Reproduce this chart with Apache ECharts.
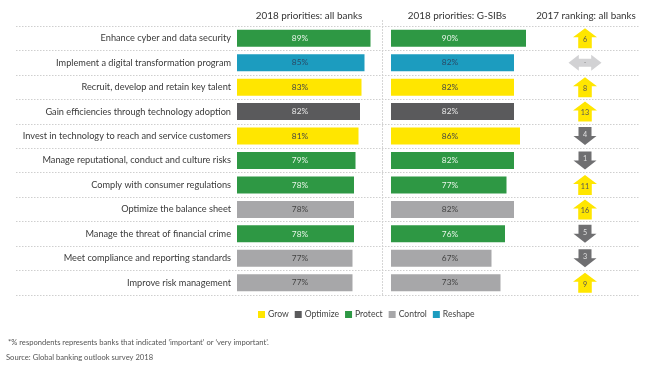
<!DOCTYPE html>
<html><head><meta charset="utf-8">
<script src="https://cdn.jsdelivr.net/npm/echarts@6/dist/echarts.min.js"></script>
<style>html,body{margin:0;padding:0;background:#fff}#c{width:650px;height:371px}</style>
</head><body><div id="c"></div>
<script>
const categories = [
  'Enhance cyber and data security',
  'Implement a digital transformation program',
  'Recruit, develop and retain key talent',
  'Gain efficiencies through technology adoption',
  'Invest in technology to reach and service customers',
  'Manage reputational, conduct and culture risks',
  'Comply with consumer regulations',
  'Optimize the balance sheet',
  'Manage the threat of financial crime',
  'Meet compliance and reporting standards',
  'Improve risk management'
];
const allBanks = [89, 85, 83, 82, 81, 79, 78, 78, 78, 77, 77];
const gsibs = [90, 82, 82, 82, 86, 82, 77, 82, 76, 67, 73];
const groups = ['Protect','Reshape','Grow','Optimize','Grow','Protect','Protect','Control','Protect','Control','Control'];
const rank2017 = ['6','-','8','13','4','1','11','16','5','3','9'];
const rankDir = ['up','both','up','up','down','down','up','up','down','down','up'];
const groupNames = ['Grow','Optimize','Protect','Control','Reshape'];
const headers = ['2018 priorities: all banks','2018 priorities: G-SIBs','2017 ranking: all banks'];
const footnote = '*% respondents represents banks that indicated \u2018important\u2019 or \u2018very important\u2019.';
const source = 'Source: Global banking outlook survey 2018';

const FONT = 'Lato';
const groupColor = {Grow:'#ffe600', Optimize:'#5a5a5c', Protect:'#2e9844', Control:'#a7a7a9', Reshape:'#1c9cbf'};
const labelColor = {Grow:'#444', Optimize:'#e8e8e8', Protect:'#e8f5e8', Control:'#444', Reshape:'#2a4a66'};
const arrowPath = {
  up: 'path://M5 9 L0 9 L11.5 0 L23 9 L18 9 L18 20 L5 20 Z',
  down: 'path://M5 0 L18 0 L18 10 L23 10 L11.5 20 L0 10 L5 10 Z',
  both: 'path://M0 8 L10 0 L10 4 L22 4 L22 0 L32 8 L22 16 L22 12 L10 12 L10 16 Z'
};
const arrowSize = {up:[24,20], down:[23,18], both:[33,16]};
const arrowColor = {up:'#ffe600', down:'#6f6f71', both:'#d2d2d4'};
const arrowText = {up:'#555', down:'#e0e0e0', both:'#888'};

const gTop = 26, gH = 269;
const yCat = (gi, show) => ({
  type:'category', gridIndex: gi, data: categories, inverse: true,
  axisLine:{show:false}, axisTick:{show:false},
  axisLabel: show ? {show:true, color:'#3a3a3a', fontFamily:FONT, fontSize:9.2, margin:6} : {show:false},
  splitLine:{show:false}
});

const series = [];
[allBanks, gsibs].forEach((vals, p) => {
  groupNames.forEach(g => {
    series.push({
      type:'bar', name:g, xAxisIndex:p+1, yAxisIndex:p+1, stack:'p'+p,
      barWidth:17, itemStyle:{color:groupColor[g]},
      data: vals.map((v,i)=> groups[i]===g ? v : '-'),
      label:{show:true, position:[p===0?63:59,'50%'], align:'center', verticalAlign:'middle',
        formatter:'{c}%', color:labelColor[g], fontFamily:FONT, fontSize:8.3},
      emphasis:{disabled:true}, animation:false
    });
  });
});
series.push({
  type:'scatter', xAxisIndex:3, yAxisIndex:3, animation:false,
  data: rank2017.map((r,i)=>({
    value:[0, i], symbol:arrowPath[rankDir[i]], symbolSize:arrowSize[rankDir[i]], symbolKeepAspect:false,
    itemStyle:{color:arrowColor[rankDir[i]], opacity:1},
    label:{show:true, position:'inside', formatter:r, color:arrowText[rankDir[i]], fontFamily:FONT, fontSize:7.2,
      offset:[0, rankDir[i]==='up'?1.5:(rankDir[i]==='down'?-1.5:0)]}
  }))
});
series.push({type:'bar', xAxisIndex:0, yAxisIndex:0, data:[], silent:true});

const chart = echarts.init(document.getElementById('c'), null, {renderer:'canvas'});
chart.setOption({
  animation:false,
  grid:[
    {left:16, width:624, top:gTop, height:gH},
    {left:237, width:150, top:gTop, height:gH},
    {left:391, width:150, top:gTop, height:gH},
    {left:560, width:50, top:gTop, height:gH}
  ],
  xAxis:[
    {type:'value', gridIndex:0, show:false},
    {type:'value', gridIndex:1, min:0, max:100, show:false},
    {type:'value', gridIndex:2, min:0, max:100, show:false},
    {type:'value', gridIndex:3, min:-1, max:1, show:false}
  ],
  yAxis:[
    Object.assign(yCat(0,false), {splitLine:{show:true, lineStyle:{color:'#cfcfcf', type:[1.5,1.5], width:1}}}),
    yCat(1,true), yCat(2,false),
    Object.assign(yCat(3,false), {data: categories.map((c,i)=>i)})
  ],
  legend:{
    data: groupNames, left:253, top:305, icon:'rect', itemWidth:7, itemHeight:7, itemGap:6,
    textStyle:{fontFamily:FONT, fontSize:8.6, color:'#444', padding:[0,0,0,-2]}
  },
  graphic:[
    {type:'line', shape:{x1:382.5, y1:20, x2:382.5, y2:295}, style:{stroke:'#d6d6d6', lineWidth:1, lineDash:[2,1]}, silent:true},
    {type:'text', x:309, y:16, style:{text:headers[0], fill:'#333', font:'9.9px '+FONT, textAlign:'center', textVerticalAlign:'middle'}},
    {type:'text', x:457, y:16, style:{text:headers[1], fill:'#333', font:'9.9px '+FONT, textAlign:'center', textVerticalAlign:'middle'}},
    {type:'text', x:586, y:16, style:{text:headers[2], fill:'#333', font:'9.9px '+FONT, textAlign:'center', textVerticalAlign:'middle'}},
    {type:'text', x:8, y:343, style:{text:footnote, fill:'#555', font:'7.6px '+FONT, textVerticalAlign:'middle'}},
    {type:'text', x:6, y:358, style:{text:source, fill:'#555', font:'7.6px '+FONT, textVerticalAlign:'middle'}}
  ],
  series: series
});
</script></body></html>
